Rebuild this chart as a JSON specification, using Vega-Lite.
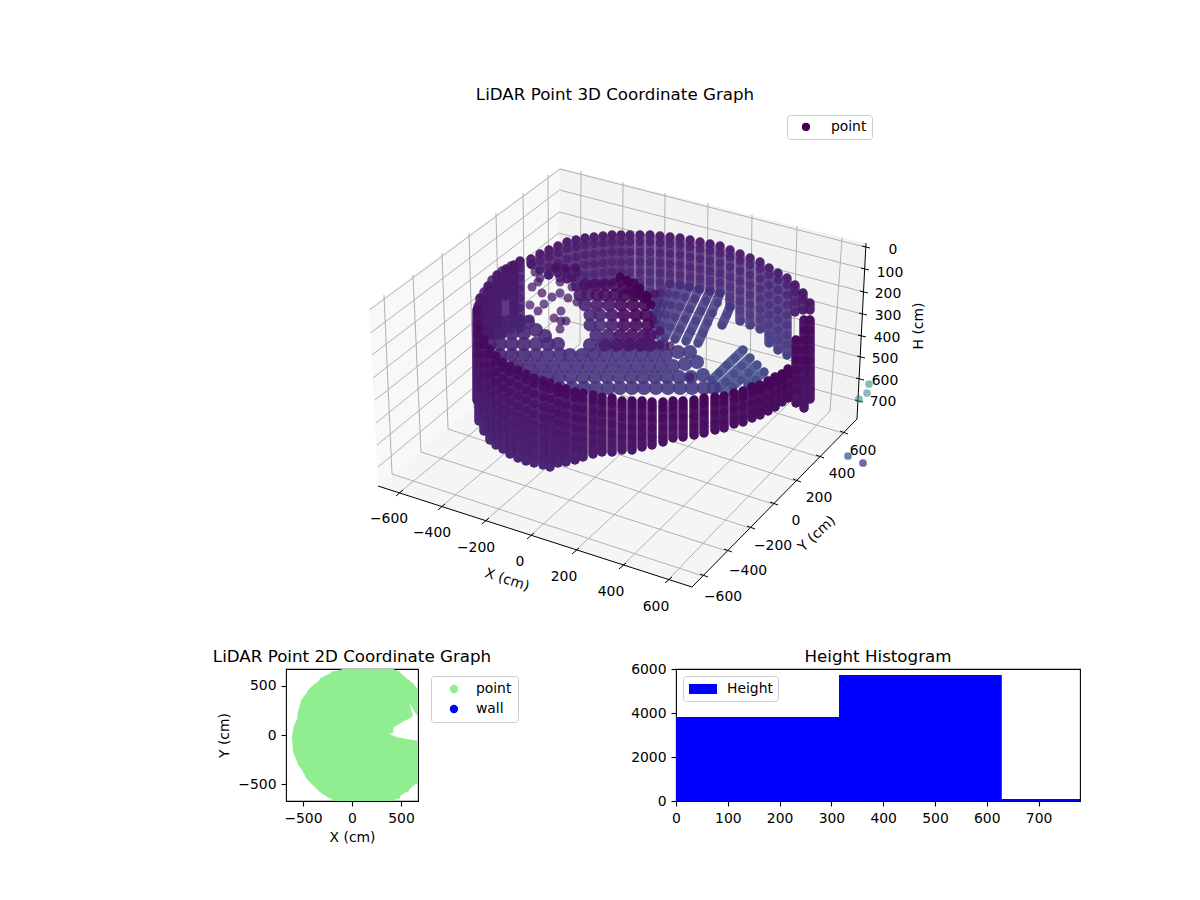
{
"$schema":"https://vega.github.io/schema/vega-lite/v6.json",
"padding":0,
"background":"white",
"config":{"font":"DejaVu Sans","view":{"stroke":null},"axis":{"grid":false,"labelFontSize":13.9,"titleFontSize":13.9,"titleFontWeight":"normal","labelColor":"black","titleColor":"black","domainColor":"black","tickColor":"black","tickSize":5,"domainWidth":1.1,"tickWidth":1.1,"labelPadding":5,"labelFlush":false},"title":{"fontSize":16.7,"fontWeight":"normal","color":"black"},"legend":{"labelFontSize":13.9,"labelColor":"black","strokeColor":"#cccccc","fillColor":"white","cornerRadius":3}},
"bounds":"flush",
"spacing":0,
"resolve":{"scale":{"color":"independent","shape":"independent"},"legend":{"color":"independent","shape":"independent"}},
"vconcat":[
{"width":1200,"height":669,
"encoding":{"x":{"field":"x","type":"quantitative","scale":{"domain":[0,1200],"nice":false},"axis":null},"y":{"field":"y","type":"quantitative","scale":{"domain":[669,0],"nice":false},"axis":null}},
"layer":[
{"data":{"values":[{"x":369,"y":308,"y2":308},{"x":378,"y":301,"y2":486},{"x":557,"y":170,"y2":338},{"x":560,"y":168,"y2":168}]},"mark":{"type":"area","color":"#f8f8f8"},"encoding":{"y2":{"field":"y2"}}},
{"data":{"values":[{"x":557,"y":338,"y2":338},{"x":560,"y":168,"y2":339},{"x":857,"y":241,"y2":419},{"x":866,"y":243,"y2":243}]},"mark":{"type":"area","color":"#f2f2f2"},"encoding":{"y2":{"field":"y2"}}},
{"data":{"values":[{"x":378,"y":486,"y2":486},{"x":557,"y":338,"y2":544},{"x":692,"y":374,"y2":587},{"x":857,"y":419,"y2":419}]},"mark":{"type":"area","color":"#f5f5f5"},"encoding":{"y2":{"field":"y2"}}},
{"data":{"values":[
{"x":384,"y":295,"x2":392,"y2":474},{"x":413,"y":275,"x2":421,"y2":452},{"x":442,"y":253,"x2":448,"y2":429},{"x":469,"y":233,"x2":474,"y2":408},{"x":496,"y":213,"x2":500,"y2":386},{"x":523,"y":193,"x2":525,"y2":365},{"x":548,"y":175,"x2":549,"y2":345},
{"x":369.5,"y":310,"x2":560,"y2":169},{"x":370.5,"y":333,"x2":559.6,"y2":190},{"x":372,"y":355,"x2":559.2,"y2":212},{"x":373,"y":378,"x2":558.8,"y2":233},{"x":375,"y":400,"x2":558.4,"y2":255},{"x":376,"y":423,"x2":558,"y2":276},{"x":377,"y":445,"x2":557.6,"y2":297},{"x":378,"y":467,"x2":557.2,"y2":318},
{"x":560,"y":169,"x2":865,"y2":247},{"x":559.6,"y":190,"x2":865,"y2":269},{"x":559.2,"y":212,"x2":864,"y2":292},{"x":558.8,"y":233,"x2":862,"y2":314},{"x":558.4,"y":255,"x2":861,"y2":336},{"x":558,"y":276,"x2":860,"y2":357},{"x":557.6,"y":297,"x2":859,"y2":379},{"x":557.2,"y":318,"x2":858,"y2":401},
{"x":581,"y":171,"x2":580,"y2":344},{"x":623,"y":182,"x2":622,"y2":355},{"x":665,"y":193,"x2":664,"y2":366},{"x":708,"y":203,"x2":706,"y2":377},{"x":752,"y":215,"x2":750,"y2":389},{"x":797,"y":226,"x2":792,"y2":400},{"x":842,"y":238,"x2":830,"y2":411},
{"x":399,"y":493,"x2":580,"y2":344},{"x":441,"y":507,"x2":622,"y2":355},{"x":485,"y":521,"x2":664,"y2":366},{"x":530,"y":536,"x2":706,"y2":377},{"x":575,"y":551,"x2":750,"y2":389},{"x":622,"y":566,"x2":792,"y2":400},{"x":668,"y":580,"x2":830,"y2":411},
{"x":392,"y":474,"x2":703,"y2":576},{"x":421,"y":452,"x2":727,"y2":551},{"x":448,"y":429,"x2":750,"y2":528},{"x":474,"y":408,"x2":773,"y2":504},{"x":500,"y":386,"x2":796,"y2":481},{"x":525,"y":365,"x2":819,"y2":457},{"x":549,"y":345,"x2":843,"y2":433}
]},"mark":{"type":"rule","color":"#b0b0b0","strokeWidth":1},"encoding":{"x2":{"field":"x2"},"y2":{"field":"y2"}}},
{"data":{"values":[
{"x":378,"y":486,"x2":692,"y2":587},{"x":692,"y":587,"x2":857,"y2":419},{"x":866,"y":243,"x2":857,"y2":419},
{"x":396,"y":496,"x2":403,"y2":490},{"x":438,"y":510,"x2":445,"y2":504},{"x":482,"y":524,"x2":489,"y2":518},{"x":527,"y":539,"x2":534,"y2":533},{"x":572,"y":554,"x2":579,"y2":548},{"x":619,"y":569,"x2":626,"y2":563},{"x":665,"y":583,"x2":672,"y2":577},
{"x":700,"y":574,"x2":708,"y2":577},{"x":724,"y":549,"x2":732,"y2":552},{"x":747,"y":526,"x2":755,"y2":529},{"x":770,"y":502,"x2":778,"y2":505},{"x":793,"y":479,"x2":801,"y2":482},{"x":816,"y":455,"x2":824,"y2":458},{"x":840,"y":431,"x2":848,"y2":434},
{"x":862,"y":246,"x2":870,"y2":248},{"x":861,"y":268,"x2":869,"y2":270},{"x":860,"y":291,"x2":868,"y2":293},{"x":859,"y":313,"x2":867,"y2":315},{"x":858,"y":335,"x2":866,"y2":337},{"x":857,"y":356,"x2":865,"y2":358},{"x":856,"y":378,"x2":864,"y2":380},{"x":855,"y":400,"x2":863,"y2":402}
]},"mark":{"type":"rule","color":"black","strokeWidth":1},"encoding":{"x2":{"field":"x2"},"y2":{"field":"y2"}}},
{"encoding":{"color":{"field":"c","type":"quantitative","scale":{"scheme":"viridis","domain":[0,100]},"legend":null}},
"layer":[
{"data":{"values":[{"x":859,"y":399,"c":45},{"x":867,"y":393,"c":45},{"x":869,"y":384,"c":45}]},"mark":{"type":"point","filled":true,"size":60,"opacity":0.55},"encoding":{"shape":{"datum":"point","scale":{"range":["circle"]},"legend":{"title":null,"orient":"none","legendX":787,"legendY":115,"symbolFillColor":"#440154","symbolStrokeColor":"#440154","symbolOpacity":1,"symbolSize":45,"symbolOffset":7,"labelOffset":18,"padding":5}}}},
{"data":{"values":[{"x":848,"y":456,"c":30},{"x":863,"y":463,"c":15}]},"mark":{"type":"point","filled":true,"size":60,"opacity":0.75}},
{"data":{"values":[
{"x":478,"y":306,"x2":478,"y2":335,"c":5},{"x":484,"y":292,"x2":484,"y2":335,"c":5},{"x":480,"y":298,"x2":480,"y2":325,"c":6},{"x":488,"y":286,"x2":488,"y2":335,"c":6},{"x":492,"y":280,"x2":492,"y2":335,"c":6},{"x":497,"y":275,"x2":497,"y2":335,"c":6},{"x":502,"y":271,"x2":502,"y2":335,"c":6},{"x":511,"y":266,"x2":511,"y2":330,"c":7},{"x":506,"y":269,"x2":506,"y2":296,"c":6},{"x":514,"y":265,"x2":514,"y2":322,"c":7},{"x":520,"y":261,"x2":520,"y2":328,"c":7},
{"x":531,"y":259,"x2":531,"y2":264,"c":6},{"x":540,"y":254,"x2":540,"y2":270,"c":6},{"x":549,"y":250,"x2":549,"y2":275,"c":6},{"x":558,"y":246,"x2":558,"y2":273,"c":6},{"x":567,"y":242,"x2":567,"y2":279,"c":7},{"x":576,"y":240,"x2":576,"y2":287,"c":7},{"x":585,"y":238,"x2":585,"y2":285,"c":7},{"x":594,"y":237,"x2":594,"y2":284,"c":7},{"x":603,"y":236,"x2":603,"y2":283,"c":7},{"x":612,"y":235,"x2":612,"y2":282,"c":7},{"x":621,"y":235,"x2":621,"y2":282,"c":7},{"x":630,"y":235,"x2":630,"y2":290,"c":8},{"x":640,"y":235,"x2":640,"y2":295,"c":8},{"x":650,"y":235,"x2":650,"y2":302,"c":9},
{"x":660,"y":236,"x2":660,"y2":293,"c":8},{"x":660,"y":293,"x2":655,"y2":313,"c":13},
{"x":670,"y":237,"x2":670,"y2":284,"c":8},{"x":670,"y":284,"x2":654,"y2":324,"c":14},
{"x":680,"y":238,"x2":680,"y2":285,"c":8},{"x":680,"y":285,"x2":656,"y2":335,"c":15},
{"x":690,"y":240,"x2":690,"y2":287,"c":8},{"x":689,"y":287,"x2":665,"y2":337,"c":15},
{"x":700,"y":242,"x2":700,"y2":289,"c":9},{"x":699,"y":289,"x2":675,"y2":339,"c":16},
{"x":710,"y":244,"x2":710,"y2":291,"c":9},{"x":710,"y":291,"x2":686,"y2":341,"c":16},
{"x":720,"y":246,"x2":720,"y2":293,"c":9},{"x":720,"y":293,"x2":698,"y2":343,"c":17},
{"x":730,"y":250,"x2":730,"y2":307,"c":10},{"x":730,"y":307,"x2":722,"y2":325,"c":17},
{"x":740,"y":254,"x2":740,"y2":321,"c":11},{"x":750,"y":258,"x2":750,"y2":325,"c":11},{"x":760,"y":262,"x2":760,"y2":329,"c":11},{"x":769,"y":268,"x2":769,"y2":343,"c":12},{"x":778,"y":273,"x2":778,"y2":350,"c":12},{"x":787,"y":278,"x2":787,"y2":355,"c":12},{"x":795,"y":285,"x2":795,"y2":312,"c":7},{"x":803,"y":293,"x2":803,"y2":310,"c":5},{"x":810,"y":303,"x2":810,"y2":310,"c":5},
{"x":743,"y":350,"x2":712,"y2":380,"c":21},{"x":750,"y":358,"x2":718,"y2":388,"c":21},{"x":757,"y":365,"x2":725,"y2":393,"c":21},{"x":764,"y":372,"x2":748,"y2":385,"c":21}
]},"mark":{"type":"rule","strokeWidth":9.5,"strokeCap":"round","opacity":0.85},"encoding":{"x2":{"field":"x2"},"y2":{"field":"y2"}}},
{"data":{"values":[
{"x":480,"y":298,"c":5},{"x":480,"y":305,"c":6},{"x":480,"y":315,"c":6},{"x":480,"y":325,"c":7},
{"x":488,"y":286,"c":5},{"x":488,"y":293,"c":6},{"x":488,"y":303,"c":6},{"x":488,"y":313,"c":7},{"x":488,"y":323,"c":7},
{"x":497,"y":275,"c":5},{"x":497,"y":282,"c":6},{"x":497,"y":292,"c":6},{"x":497,"y":302,"c":7},{"x":497,"y":312,"c":7},{"x":497,"y":322,"c":8},
{"x":506,"y":269,"c":5},{"x":506,"y":276,"c":6},{"x":506,"y":286,"c":6},{"x":506,"y":296,"c":7},
{"x":514,"y":265,"c":5},{"x":514,"y":272,"c":6},{"x":514,"y":282,"c":6},{"x":514,"y":292,"c":7},{"x":514,"y":302,"c":7},{"x":514,"y":312,"c":8},{"x":514,"y":322,"c":8},
{"x":520,"y":261,"c":5},{"x":520,"y":268,"c":6},{"x":520,"y":278,"c":7},{"x":520,"y":288,"c":7},{"x":520,"y":298,"c":8},{"x":520,"y":308,"c":8},{"x":520,"y":318,"c":9},{"x":520,"y":328,"c":9},
{"x":531,"y":259,"c":5},{"x":531,"y":264,"c":6},
{"x":540,"y":254,"c":5},{"x":540,"y":261,"c":6},{"x":540,"y":270,"c":7},
{"x":549,"y":250,"c":5},{"x":549,"y":257,"c":6},{"x":549,"y":267,"c":7},{"x":549,"y":275,"c":8},
{"x":558,"y":246,"c":5},{"x":558,"y":253,"c":6},{"x":558,"y":263,"c":7},{"x":558,"y":273,"c":8},
{"x":567,"y":242,"c":5},{"x":567,"y":249,"c":6},{"x":567,"y":259,"c":7},{"x":567,"y":269,"c":8},{"x":567,"y":279,"c":9},
{"x":576,"y":240,"c":5},{"x":576,"y":247,"c":6},{"x":576,"y":257,"c":7},{"x":576,"y":267,"c":8},{"x":576,"y":277,"c":9},{"x":576,"y":287,"c":10},
{"x":585,"y":238,"c":5},{"x":585,"y":245,"c":6},{"x":585,"y":255,"c":7},{"x":585,"y":265,"c":8},{"x":585,"y":275,"c":9},{"x":585,"y":285,"c":10},
{"x":594,"y":237,"c":5},{"x":594,"y":244,"c":6},{"x":594,"y":254,"c":7},{"x":594,"y":264,"c":8},{"x":594,"y":274,"c":9},{"x":594,"y":284,"c":10},
{"x":603,"y":236,"c":5},{"x":603,"y":243,"c":6},{"x":603,"y":253,"c":7},{"x":603,"y":263,"c":8},{"x":603,"y":273,"c":9},{"x":603,"y":283,"c":10},
{"x":612,"y":235,"c":5},{"x":612,"y":242,"c":6},{"x":612,"y":252,"c":7},{"x":612,"y":262,"c":8},{"x":612,"y":272,"c":9},{"x":612,"y":282,"c":10},
{"x":621,"y":235,"c":5},{"x":621,"y":242,"c":6},{"x":621,"y":252,"c":7},{"x":621,"y":262,"c":8},{"x":621,"y":272,"c":9},{"x":621,"y":282,"c":10},
{"x":630,"y":235,"c":5},{"x":630,"y":242,"c":6},{"x":630,"y":252,"c":7},{"x":630,"y":262,"c":9},{"x":630,"y":272,"c":10},{"x":630,"y":282,"c":11},
{"x":640,"y":235,"c":5},{"x":640,"y":242,"c":6},{"x":640,"y":252,"c":8},{"x":640,"y":262,"c":9},{"x":640,"y":272,"c":10},{"x":640,"y":282,"c":11},{"x":640,"y":292,"c":12},
{"x":650,"y":235,"c":5},{"x":650,"y":242,"c":6},{"x":650,"y":252,"c":8},{"x":650,"y":262,"c":9},{"x":650,"y":272,"c":10},{"x":650,"y":282,"c":11},{"x":650,"y":292,"c":12},{"x":650,"y":302,"c":13},
{"x":660,"y":236,"c":5},{"x":660,"y":243,"c":6},{"x":660,"y":253,"c":8},{"x":660,"y":263,"c":9},{"x":660,"y":273,"c":10},{"x":660,"y":283,"c":11},{"x":660,"y":293,"c":12},{"x":658,"y":303,"c":13},{"x":655,"y":313,"c":14},
{"x":670,"y":237,"c":5},{"x":670,"y":244,"c":7},{"x":670,"y":254,"c":8},{"x":670,"y":264,"c":9},{"x":670,"y":274,"c":10},{"x":670,"y":284,"c":11},{"x":668,"y":294,"c":13},{"x":664,"y":304,"c":14},{"x":659,"y":314,"c":15},{"x":654,"y":324,"c":16},
{"x":680,"y":238,"c":5},{"x":680,"y":245,"c":7},{"x":680,"y":255,"c":8},{"x":680,"y":265,"c":9},{"x":680,"y":275,"c":10},{"x":680,"y":285,"c":12},{"x":676,"y":295,"c":13},{"x":671,"y":305,"c":14},{"x":666,"y":315,"c":15},{"x":661,"y":325,"c":16},{"x":656,"y":335,"c":17},
{"x":690,"y":240,"c":5},{"x":690,"y":247,"c":7},{"x":690,"y":257,"c":8},{"x":690,"y":267,"c":9},{"x":690,"y":277,"c":11},{"x":689,"y":287,"c":12},{"x":685,"y":297,"c":14},{"x":680,"y":307,"c":15},{"x":675,"y":317,"c":16},{"x":670,"y":327,"c":17},{"x":665,"y":337,"c":18},
{"x":700,"y":242,"c":5},{"x":700,"y":249,"c":7},{"x":700,"y":259,"c":8},{"x":700,"y":269,"c":10},{"x":700,"y":279,"c":11},{"x":699,"y":289,"c":13},{"x":695,"y":299,"c":14},{"x":690,"y":309,"c":15},{"x":685,"y":319,"c":17},{"x":680,"y":329,"c":18},{"x":675,"y":339,"c":18},
{"x":710,"y":244,"c":5},{"x":710,"y":251,"c":7},{"x":710,"y":261,"c":9},{"x":710,"y":271,"c":10},{"x":710,"y":281,"c":12},{"x":710,"y":291,"c":13},{"x":706,"y":301,"c":15},{"x":701,"y":311,"c":16},{"x":696,"y":321,"c":17},{"x":691,"y":331,"c":18},{"x":686,"y":341,"c":19},
{"x":720,"y":246,"c":5},{"x":720,"y":253,"c":7},{"x":720,"y":263,"c":9},{"x":720,"y":273,"c":10},{"x":720,"y":283,"c":12},{"x":720,"y":293,"c":14},{"x":718,"y":303,"c":15},{"x":713,"y":313,"c":16},{"x":708,"y":323,"c":18},{"x":703,"y":333,"c":19},{"x":698,"y":343,"c":20},
{"x":730,"y":250,"c":5},{"x":730,"y":257,"c":7},{"x":730,"y":267,"c":9},{"x":730,"y":277,"c":11},{"x":730,"y":287,"c":13},{"x":730,"y":297,"c":15},{"x":730,"y":307,"c":16},{"x":727,"y":315,"c":17},{"x":722,"y":325,"c":18},
{"x":740,"y":254,"c":5},{"x":740,"y":261,"c":7},{"x":740,"y":271,"c":9},{"x":740,"y":281,"c":11},{"x":740,"y":291,"c":13},{"x":740,"y":301,"c":15},{"x":740,"y":311,"c":17},{"x":741,"y":321,"c":18},
{"x":750,"y":258,"c":5},{"x":750,"y":265,"c":7},{"x":750,"y":275,"c":9},{"x":750,"y":285,"c":11},{"x":750,"y":295,"c":13},{"x":750,"y":305,"c":15},{"x":750,"y":315,"c":17},{"x":751,"y":325,"c":19},
{"x":760,"y":262,"c":5},{"x":760,"y":269,"c":7},{"x":760,"y":279,"c":9},{"x":760,"y":289,"c":11},{"x":760,"y":299,"c":13},{"x":760,"y":309,"c":15},{"x":760,"y":319,"c":17},{"x":761,"y":329,"c":19},
{"x":769,"y":268,"c":5},{"x":769,"y":275,"c":7},{"x":769,"y":285,"c":9},{"x":769,"y":295,"c":11},{"x":769,"y":305,"c":13},{"x":769,"y":315,"c":15},{"x":769,"y":325,"c":17},{"x":769,"y":335,"c":19},{"x":770,"y":343,"c":20},
{"x":778,"y":273,"c":5},{"x":778,"y":280,"c":7},{"x":778,"y":290,"c":9},{"x":778,"y":300,"c":11},{"x":778,"y":310,"c":13},{"x":778,"y":320,"c":15},{"x":778,"y":330,"c":17},{"x":778,"y":340,"c":19},{"x":778,"y":350,"c":20},
{"x":787,"y":278,"c":5},{"x":787,"y":285,"c":7},{"x":787,"y":295,"c":9},{"x":787,"y":305,"c":11},{"x":787,"y":315,"c":13},{"x":787,"y":325,"c":15},{"x":787,"y":335,"c":17},{"x":787,"y":345,"c":18},{"x":787,"y":355,"c":19},
{"x":795,"y":285,"c":5},{"x":795,"y":292,"c":6},{"x":795,"y":302,"c":8},{"x":795,"y":312,"c":9},
{"x":803,"y":293,"c":4},{"x":803,"y":300,"c":5},{"x":803,"y":310,"c":6},
{"x":810,"y":303,"c":4},{"x":810,"y":310,"c":5},
{"x":743,"y":350,"c":22},{"x":735,"y":358,"c":22},{"x":727,"y":365,"c":21},{"x":719,"y":373,"c":20},{"x":712,"y":380,"c":19},{"x":750,"y":358,"c":22},{"x":742,"y":366,"c":22},{"x":734,"y":374,"c":21},{"x":726,"y":382,"c":20},{"x":718,"y":388,"c":19},{"x":757,"y":365,"c":22},{"x":749,"y":373,"c":22},{"x":741,"y":380,"c":21},{"x":733,"y":387,"c":20},{"x":764,"y":372,"c":22},{"x":756,"y":380,"c":21},{"x":748,"y":385,"c":20}
]},"mark":{"type":"point","filled":true,"size":70,"opacity":0.7}},
{"data":{"values":[
{"x":488,"y":332,"c":6},{"x":490,"y":344,"c":6},{"x":500,"y":322,"c":7},
{"x":508,"y":322,"c":9},{"x":519,"y":322,"c":9},{"x":528,"y":322,"c":10},
{"x":500,"y":333,"c":9},{"x":512,"y":333,"c":10},{"x":524,"y":333,"c":10},{"x":536,"y":330,"c":11},{"x":545,"y":336,"c":11},
{"x":500,"y":344,"c":9},{"x":512,"y":344,"c":10},{"x":524,"y":344,"c":11},{"x":536,"y":344,"c":12},{"x":548,"y":344,"c":12},{"x":558,"y":344,"c":12},
{"x":500,"y":355,"c":8},{"x":512,"y":355,"c":9},{"x":524,"y":355,"c":11},{"x":536,"y":355,"c":12},{"x":548,"y":355,"c":13},{"x":560,"y":355,"c":13},{"x":570,"y":355,"c":13},
{"x":590,"y":345,"c":12},{"x":602,"y":345,"c":13},{"x":614,"y":345,"c":13},{"x":626,"y":345,"c":13},{"x":638,"y":345,"c":13},{"x":650,"y":345,"c":13},{"x":662,"y":345,"c":14},
{"x":582,"y":355,"c":13},{"x":594,"y":355,"c":13},{"x":606,"y":355,"c":14},{"x":618,"y":355,"c":14},{"x":630,"y":355,"c":14},{"x":642,"y":355,"c":14},{"x":654,"y":355,"c":14},{"x":666,"y":355,"c":15},{"x":678,"y":352,"c":16},{"x":690,"y":352,"c":17},
{"x":517,"y":366,"c":9},{"x":529,"y":366,"c":11},{"x":541,"y":366,"c":12},{"x":553,"y":366,"c":13},{"x":565,"y":366,"c":14},{"x":577,"y":366,"c":14},{"x":589,"y":366,"c":14},{"x":601,"y":366,"c":15},{"x":613,"y":366,"c":15},{"x":625,"y":366,"c":15},{"x":637,"y":366,"c":15},{"x":649,"y":366,"c":15},{"x":661,"y":366,"c":15},{"x":673,"y":366,"c":16},{"x":685,"y":364,"c":17},{"x":697,"y":362,"c":18},
{"x":535,"y":377,"c":11},{"x":547,"y":377,"c":12},{"x":559,"y":377,"c":13},{"x":571,"y":377,"c":14},{"x":583,"y":377,"c":15},{"x":595,"y":377,"c":15},{"x":607,"y":377,"c":15},{"x":619,"y":377,"c":15},{"x":631,"y":377,"c":15},{"x":643,"y":377,"c":15},{"x":655,"y":377,"c":15},{"x":667,"y":377,"c":16},{"x":679,"y":377,"c":16},{"x":691,"y":377,"c":17},{"x":703,"y":375,"c":18},
{"x":560,"y":388,"c":13},{"x":572,"y":388,"c":14},{"x":584,"y":388,"c":14},{"x":596,"y":388,"c":15},{"x":608,"y":388,"c":15},{"x":620,"y":388,"c":15},{"x":632,"y":388,"c":15},{"x":644,"y":388,"c":15},{"x":656,"y":388,"c":15},{"x":668,"y":388,"c":16},{"x":680,"y":388,"c":16},{"x":692,"y":388,"c":17},{"x":704,"y":388,"c":17},{"x":714,"y":388,"c":18}
]},"mark":{"type":"point","filled":true,"size":200,"opacity":0.9}},
{"data":{"values":[
{"x":532,"y":265,"c":6},{"x":535,"y":272,"c":6},{"x":540,"y":278,"c":7},{"x":538,"y":282,"c":7},{"x":548,"y":275,"c":6},{"x":532,"y":287,"c":7},{"x":542,"y":293,"c":7},{"x":530,"y":305,"c":8},{"x":544,"y":304,"c":8},{"x":538,"y":311,"c":8},{"x":530,"y":319,"c":9},{"x":554,"y":318,"c":7},{"x":561,"y":311,"c":8},{"x":561,"y":321,"c":7},{"x":566,"y":321,"c":6},{"x":560,"y":329,"c":8},{"x":568,"y":298,"c":6},{"x":577,"y":302,"c":6},{"x":552,"y":297,"c":7},{"x":560,"y":293,"c":7},{"x":557,"y":267,"c":6},{"x":567,"y":273,"c":6},{"x":577,"y":272,"c":6},{"x":560,"y":282,"c":6},{"x":572,"y":287,"c":7},
{"x":555,"y":268,"c":4},{"x":565,"y":268,"c":4},{"x":575,"y":268,"c":4},{"x":560,"y":278,"c":5},{"x":572,"y":278,"c":5},
{"x":655,"y":294,"c":4},{"x":653,"y":320,"c":3},{"x":660,"y":331,"c":3},{"x":670,"y":346,"c":4},{"x":660,"y":345,"c":4},{"x":690,"y":377,"c":6}
]},"mark":{"type":"point","filled":true,"size":80,"opacity":0.75}},
{"data":{"values":[
{"x":585,"y":285,"c":5},{"x":595,"y":285,"c":4},{"x":605,"y":285,"c":4},{"x":615,"y":285,"c":3},{"x":625,"y":288,"c":2},{"x":636,"y":292,"c":1},
{"x":580,"y":295,"c":7},{"x":588,"y":295,"c":6},{"x":597,"y":295,"c":4},{"x":605,"y":295,"c":3},{"x":615,"y":295,"c":2},{"x":625,"y":295,"c":1},{"x":635,"y":295,"c":1},{"x":645,"y":297,"c":1},
{"x":585,"y":305,"c":9},{"x":597,"y":305,"c":7},{"x":609,"y":305,"c":5},{"x":621,"y":305,"c":2},{"x":633,"y":305,"c":1},{"x":645,"y":305,"c":1},
{"x":590,"y":315,"c":11},{"x":600,"y":315,"c":9},{"x":612,"y":315,"c":6},{"x":624,"y":315,"c":2},{"x":636,"y":315,"c":1},{"x":646,"y":315,"c":1},
{"x":590,"y":325,"c":11},{"x":600,"y":325,"c":12},{"x":612,"y":325,"c":8},{"x":624,"y":325,"c":3},{"x":636,"y":325,"c":2},{"x":648,"y":325,"c":2},
{"x":596,"y":335,"c":11},{"x":608,"y":335,"c":9},{"x":620,"y":335,"c":4},{"x":632,"y":335,"c":3},{"x":644,"y":335,"c":3},{"x":650,"y":335,"c":5},
{"x":605,"y":345,"c":8},{"x":617,"y":345,"c":6},{"x":629,"y":345,"c":5},{"x":641,"y":345,"c":5},{"x":650,"y":345,"c":6}
]},"mark":{"type":"point","filled":true,"size":170,"opacity":0.9}},
{"data":{"values":[{"x":620,"y":277,"c":0},{"x":627,"y":280,"c":0},{"x":634,"y":283,"c":0},{"x":640,"y":288,"c":0},{"x":647,"y":296,"c":0},{"x":651,"y":305,"c":0}]},"mark":{"type":"point","filled":true,"size":80,"opacity":0.9}},
{"data":{"values":[
{"x":477,"y":310,"x2":477,"y2":400,"c":5},{"x":479,"y":329,"x2":479,"y2":421,"c":6},{"x":484,"y":339,"x2":484,"y2":431,"c":6},{"x":490,"y":349,"x2":490,"y2":440,"c":6},{"x":496,"y":356,"x2":496,"y2":445,"c":6},{"x":503,"y":362,"x2":503,"y2":449,"c":6},{"x":510,"y":366,"x2":510,"y2":454,"c":6},{"x":518,"y":370,"x2":518,"y2":458,"c":6},{"x":526,"y":374,"x2":526,"y2":461,"c":6},{"x":534,"y":378,"x2":534,"y2":463,"c":6},{"x":543,"y":381,"x2":543,"y2":465,"c":6},{"x":550,"y":383,"x2":550,"y2":467,"c":6},{"x":558,"y":387,"x2":558,"y2":463,"c":5},{"x":566,"y":389,"x2":566,"y2":462,"c":5},{"x":575,"y":392,"x2":575,"y2":460,"c":5},{"x":583,"y":393,"x2":583,"y2":457,"c":5},{"x":593,"y":395,"x2":593,"y2":454,"c":4},{"x":602,"y":397,"x2":602,"y2":452,"c":4},{"x":612,"y":398,"x2":612,"y2":452,"c":4},{"x":622,"y":401,"x2":622,"y2":450,"c":4},{"x":632,"y":401,"x2":632,"y2":450,"c":3},{"x":642,"y":401,"x2":642,"y2":447,"c":3},{"x":652,"y":402,"x2":652,"y2":445,"c":3},{"x":663,"y":402,"x2":663,"y2":442,"c":3},{"x":673,"y":401,"x2":673,"y2":438,"c":3},{"x":683,"y":401,"x2":683,"y2":437,"c":2},{"x":694,"y":400,"x2":694,"y2":435,"c":2},{"x":704,"y":398,"x2":704,"y2":433,"c":2},{"x":715,"y":397,"x2":715,"y2":430,"c":2},{"x":724,"y":396,"x2":724,"y2":428,"c":2},{"x":734,"y":393,"x2":734,"y2":424,"c":2},{"x":743,"y":391,"x2":743,"y2":422,"c":2},{"x":752,"y":387,"x2":752,"y2":418,"c":2},{"x":760,"y":385,"x2":760,"y2":415,"c":2},{"x":768,"y":381,"x2":768,"y2":411,"c":2},{"x":775,"y":377,"x2":775,"y2":407,"c":2},{"x":782,"y":374,"x2":782,"y2":402,"c":2},{"x":788,"y":369,"x2":788,"y2":398,"c":2},{"x":796,"y":340,"x2":796,"y2":403,"c":2},{"x":804,"y":320,"x2":804,"y2":408,"c":3},{"x":810,"y":320,"x2":810,"y2":399,"c":3}
]},"mark":{"type":"rule","strokeWidth":9.5,"strokeCap":"round","opacity":0.95},"encoding":{"x2":{"field":"x2"},"y2":{"field":"y2"}}},
{"data":{"values":[
{"x":477,"y":310,"c":3},{"x":477,"y":325,"c":3},{"x":477,"y":335,"c":4},{"x":477,"y":345,"c":4},{"x":477,"y":355,"c":5},{"x":477,"y":365,"c":6},{"x":477,"y":375,"c":7},{"x":477,"y":385,"c":8},{"x":477,"y":395,"c":9},{"x":477,"y":400,"c":10},
{"x":479,"y":329,"c":2},{"x":479,"y":335,"c":3},{"x":479,"y":345,"c":3},{"x":479,"y":355,"c":4},{"x":479,"y":365,"c":5},{"x":479,"y":375,"c":6},{"x":479,"y":385,"c":7},{"x":479,"y":395,"c":8},{"x":479,"y":405,"c":9},{"x":479,"y":415,"c":10},{"x":479,"y":421,"c":11},
{"x":484,"y":339,"c":2},{"x":484,"y":345,"c":2},{"x":484,"y":355,"c":3},{"x":484,"y":365,"c":4},{"x":484,"y":375,"c":5},{"x":484,"y":385,"c":6},{"x":484,"y":395,"c":7},{"x":484,"y":405,"c":8},{"x":484,"y":415,"c":9},{"x":484,"y":425,"c":10},{"x":484,"y":431,"c":11},
{"x":490,"y":349,"c":2},{"x":490,"y":355,"c":2},{"x":490,"y":365,"c":3},{"x":490,"y":375,"c":4},{"x":490,"y":385,"c":5},{"x":490,"y":395,"c":6},{"x":490,"y":405,"c":7},{"x":490,"y":415,"c":8},{"x":490,"y":425,"c":9},{"x":490,"y":435,"c":10},{"x":490,"y":440,"c":11},
{"x":496,"y":356,"c":2},{"x":496,"y":362,"c":2},{"x":496,"y":372,"c":3},{"x":496,"y":382,"c":4},{"x":496,"y":392,"c":5},{"x":496,"y":402,"c":6},{"x":496,"y":412,"c":7},{"x":496,"y":422,"c":8},{"x":496,"y":432,"c":9},{"x":496,"y":442,"c":10},{"x":496,"y":445,"c":11},
{"x":503,"y":362,"c":2},{"x":503,"y":368,"c":2},{"x":503,"y":378,"c":3},{"x":503,"y":388,"c":4},{"x":503,"y":398,"c":5},{"x":503,"y":408,"c":6},{"x":503,"y":418,"c":7},{"x":503,"y":428,"c":8},{"x":503,"y":438,"c":9},{"x":503,"y":449,"c":11},
{"x":510,"y":366,"c":2},{"x":510,"y":372,"c":2},{"x":510,"y":382,"c":3},{"x":510,"y":392,"c":4},{"x":510,"y":402,"c":5},{"x":510,"y":412,"c":6},{"x":510,"y":422,"c":7},{"x":510,"y":432,"c":8},{"x":510,"y":442,"c":9},{"x":510,"y":454,"c":11},
{"x":518,"y":370,"c":2},{"x":518,"y":376,"c":2},{"x":518,"y":386,"c":3},{"x":518,"y":396,"c":4},{"x":518,"y":406,"c":5},{"x":518,"y":416,"c":6},{"x":518,"y":426,"c":7},{"x":518,"y":436,"c":8},{"x":518,"y":446,"c":9},{"x":518,"y":458,"c":11},
{"x":526,"y":374,"c":2},{"x":526,"y":380,"c":2},{"x":526,"y":390,"c":3},{"x":526,"y":400,"c":4},{"x":526,"y":410,"c":5},{"x":526,"y":420,"c":6},{"x":526,"y":430,"c":7},{"x":526,"y":440,"c":8},{"x":526,"y":450,"c":9},{"x":526,"y":461,"c":11},
{"x":534,"y":378,"c":2},{"x":534,"y":384,"c":2},{"x":534,"y":394,"c":3},{"x":534,"y":404,"c":4},{"x":534,"y":414,"c":5},{"x":534,"y":424,"c":6},{"x":534,"y":434,"c":7},{"x":534,"y":444,"c":8},{"x":534,"y":454,"c":9},{"x":534,"y":463,"c":10},
{"x":543,"y":381,"c":2},{"x":543,"y":387,"c":2},{"x":543,"y":397,"c":3},{"x":543,"y":407,"c":4},{"x":543,"y":417,"c":5},{"x":543,"y":427,"c":6},{"x":543,"y":437,"c":7},{"x":543,"y":447,"c":8},{"x":543,"y":457,"c":9},{"x":543,"y":465,"c":11},
{"x":550,"y":383,"c":2},{"x":550,"y":389,"c":2},{"x":550,"y":399,"c":3},{"x":550,"y":409,"c":4},{"x":550,"y":419,"c":5},{"x":550,"y":429,"c":6},{"x":550,"y":439,"c":7},{"x":550,"y":449,"c":8},{"x":550,"y":459,"c":9},{"x":550,"y":467,"c":11},
{"x":558,"y":387,"c":2},{"x":558,"y":393,"c":2},{"x":558,"y":403,"c":3},{"x":558,"y":413,"c":4},{"x":558,"y":423,"c":5},{"x":558,"y":433,"c":6},{"x":558,"y":443,"c":7},{"x":558,"y":453,"c":8},{"x":558,"y":463,"c":10},
{"x":566,"y":389,"c":2},{"x":566,"y":395,"c":2},{"x":566,"y":405,"c":3},{"x":566,"y":415,"c":4},{"x":566,"y":425,"c":5},{"x":566,"y":435,"c":6},{"x":566,"y":445,"c":7},{"x":566,"y":455,"c":8},{"x":566,"y":462,"c":10},
{"x":575,"y":392,"c":2},{"x":575,"y":398,"c":2},{"x":575,"y":408,"c":3},{"x":575,"y":418,"c":4},{"x":575,"y":428,"c":5},{"x":575,"y":438,"c":6},{"x":575,"y":448,"c":7},{"x":575,"y":460,"c":9},
{"x":583,"y":393,"c":2},{"x":583,"y":399,"c":2},{"x":583,"y":409,"c":3},{"x":583,"y":419,"c":4},{"x":583,"y":429,"c":5},{"x":583,"y":439,"c":6},{"x":583,"y":449,"c":7},{"x":583,"y":457,"c":9},
{"x":593,"y":395,"c":2},{"x":593,"y":401,"c":2},{"x":593,"y":411,"c":3},{"x":593,"y":421,"c":4},{"x":593,"y":431,"c":5},{"x":593,"y":441,"c":6},{"x":593,"y":451,"c":7},{"x":593,"y":454,"c":8},
{"x":602,"y":397,"c":2},{"x":602,"y":403,"c":2},{"x":602,"y":413,"c":3},{"x":602,"y":423,"c":4},{"x":602,"y":433,"c":5},{"x":602,"y":443,"c":6},{"x":602,"y":452,"c":7},
{"x":612,"y":398,"c":2},{"x":612,"y":404,"c":2},{"x":612,"y":414,"c":3},{"x":612,"y":424,"c":4},{"x":612,"y":434,"c":5},{"x":612,"y":444,"c":6},{"x":612,"y":452,"c":7},
{"x":622,"y":401,"c":1},{"x":622,"y":407,"c":2},{"x":622,"y":417,"c":3},{"x":622,"y":427,"c":4},{"x":622,"y":437,"c":5},{"x":622,"y":447,"c":6},{"x":622,"y":450,"c":7},
{"x":632,"y":401,"c":1},{"x":632,"y":407,"c":2},{"x":632,"y":417,"c":3},{"x":632,"y":427,"c":3},{"x":632,"y":437,"c":4},{"x":632,"y":447,"c":5},{"x":632,"y":450,"c":6},
{"x":642,"y":401,"c":1},{"x":642,"y":407,"c":1},{"x":642,"y":417,"c":2},{"x":642,"y":427,"c":3},{"x":642,"y":437,"c":4},{"x":642,"y":447,"c":5},
{"x":652,"y":402,"c":1},{"x":652,"y":408,"c":1},{"x":652,"y":418,"c":2},{"x":652,"y":428,"c":3},{"x":652,"y":438,"c":4},{"x":652,"y":445,"c":5},
{"x":663,"y":402,"c":1},{"x":663,"y":408,"c":1},{"x":663,"y":418,"c":2},{"x":663,"y":428,"c":3},{"x":663,"y":438,"c":4},{"x":663,"y":442,"c":5},
{"x":673,"y":401,"c":1},{"x":673,"y":407,"c":1},{"x":673,"y":417,"c":2},{"x":673,"y":427,"c":3},{"x":673,"y":438,"c":5},
{"x":683,"y":401,"c":1},{"x":683,"y":407,"c":1},{"x":683,"y":417,"c":2},{"x":683,"y":427,"c":3},{"x":683,"y":437,"c":4},
{"x":694,"y":400,"c":1},{"x":694,"y":406,"c":1},{"x":694,"y":416,"c":2},{"x":694,"y":426,"c":3},{"x":694,"y":435,"c":4},
{"x":704,"y":398,"c":1},{"x":704,"y":404,"c":1},{"x":704,"y":414,"c":2},{"x":704,"y":424,"c":3},{"x":704,"y":433,"c":4},
{"x":715,"y":397,"c":1},{"x":715,"y":403,"c":1},{"x":715,"y":413,"c":2},{"x":715,"y":423,"c":3},{"x":715,"y":430,"c":4},
{"x":724,"y":396,"c":1},{"x":724,"y":402,"c":1},{"x":724,"y":412,"c":2},{"x":724,"y":422,"c":3},{"x":724,"y":428,"c":4},
{"x":734,"y":393,"c":1},{"x":734,"y":399,"c":1},{"x":734,"y":409,"c":2},{"x":734,"y":419,"c":3},{"x":734,"y":424,"c":4},
{"x":743,"y":391,"c":1},{"x":743,"y":397,"c":1},{"x":743,"y":407,"c":2},{"x":743,"y":417,"c":3},{"x":743,"y":422,"c":4},
{"x":752,"y":387,"c":1},{"x":752,"y":393,"c":1},{"x":752,"y":403,"c":2},{"x":752,"y":413,"c":3},{"x":752,"y":418,"c":4},
{"x":760,"y":385,"c":1},{"x":760,"y":391,"c":1},{"x":760,"y":401,"c":2},{"x":760,"y":411,"c":3},{"x":760,"y":415,"c":4},
{"x":768,"y":381,"c":1},{"x":768,"y":387,"c":1},{"x":768,"y":397,"c":2},{"x":768,"y":407,"c":3},{"x":768,"y":411,"c":4},
{"x":775,"y":377,"c":1},{"x":775,"y":383,"c":1},{"x":775,"y":393,"c":2},{"x":775,"y":403,"c":3},{"x":775,"y":407,"c":4},
{"x":782,"y":374,"c":1},{"x":782,"y":380,"c":1},{"x":782,"y":390,"c":2},{"x":782,"y":400,"c":3},
{"x":788,"y":369,"c":1},{"x":788,"y":375,"c":1},{"x":788,"y":385,"c":2},{"x":788,"y":395,"c":2},{"x":788,"y":398,"c":3},
{"x":796,"y":340,"c":2},{"x":796,"y":350,"c":2},{"x":796,"y":360,"c":1},{"x":796,"y":370,"c":2},{"x":796,"y":380,"c":3},{"x":796,"y":390,"c":3},{"x":796,"y":403,"c":4},
{"x":804,"y":320,"c":3},{"x":804,"y":330,"c":2},{"x":804,"y":340,"c":2},{"x":804,"y":350,"c":2},{"x":804,"y":360,"c":2},{"x":804,"y":370,"c":3},{"x":804,"y":380,"c":4},{"x":804,"y":390,"c":5},{"x":804,"y":400,"c":5},{"x":804,"y":408,"c":5},
{"x":810,"y":320,"c":2},{"x":810,"y":330,"c":2},{"x":810,"y":340,"c":3},{"x":810,"y":350,"c":3},{"x":810,"y":360,"c":3},{"x":810,"y":370,"c":4},{"x":810,"y":380,"c":5},{"x":810,"y":390,"c":6},{"x":810,"y":399,"c":6}
]},"mark":{"type":"point","filled":true,"size":70,"opacity":0.8}}
]},
{"data":{"values":[{"x":615,"y":95,"t":"LiDAR Point 3D Coordinate Graph"}]},"mark":{"type":"text","fontSize":16.7},"encoding":{"text":{"field":"t"}}},
{"data":{"values":[
{"x":389,"y":519,"t":"−600"},{"x":432,"y":533,"t":"−400"},{"x":476,"y":548,"t":"−200"},{"x":520,"y":562,"t":"0"},{"x":564,"y":577,"t":"200"},{"x":611,"y":592,"t":"400"},{"x":656,"y":607,"t":"600"},
{"x":723,"y":597,"t":"−600"},{"x":748,"y":571,"t":"−400"},{"x":773,"y":546,"t":"−200"},{"x":796,"y":521,"t":"0"},{"x":819,"y":498,"t":"200"},{"x":842,"y":474,"t":"400"},{"x":863,"y":451,"t":"600"},
{"x":893,"y":250,"t":"0"},{"x":890,"y":273,"t":"100"},{"x":888,"y":294,"t":"200"},{"x":888,"y":316,"t":"300"},{"x":887,"y":338,"t":"400"},{"x":885,"y":359,"t":"500"},{"x":885,"y":381,"t":"600"},{"x":883,"y":402,"t":"700"}
]},"mark":{"type":"text","fontSize":13.9},"encoding":{"text":{"field":"t"}}},
{"data":{"values":[{"x":507,"y":580,"t":"X (cm)"}]},"mark":{"type":"text","fontSize":13.9,"angle":18},"encoding":{"text":{"field":"t"}}},
{"data":{"values":[{"x":817,"y":534,"t":"Y (cm)"}]},"mark":{"type":"text","fontSize":13.9,"angle":317},"encoding":{"text":{"field":"t"}}},
{"data":{"values":[{"x":919,"y":326,"t":"H (cm)"}]},"mark":{"type":"text","fontSize":13.9,"angle":270},"encoding":{"text":{"field":"t"}}}
]},
{"bounds":"flush","spacing":258,
"resolve":{"scale":{"color":"independent"},"legend":{"color":"independent"}},
"hconcat":[
{"width":28,"height":132,"data":{"values":[]},"mark":{"type":"point"},"encoding":{}},
{"width":132,"height":132,"view":{"stroke":"black","strokeWidth":1.1},"title":{"text":"LiDAR Point 2D Coordinate Graph","offset":3},
"encoding":{"x":{"field":"x","type":"quantitative","title":"X (cm)","scale":{"domain":[-673,673],"nice":false},"axis":{"values":[-500,0,500],"domain":false,"format":"d","titlePadding":6}},"y":{"field":"y","type":"quantitative","title":"Y (cm)","scale":{"domain":[-673,673],"nice":false},"axis":{"values":[-500,0,500],"domain":false,"format":"d","titlePadding":6}}},
"layer":[
{"data":{"values":[
{"p":"a","x":-612,"y":-17,"y2":-17},{"p":"a","x":-602,"y":51,"y2":-153},{"p":"a","x":-595,"y":85,"y2":-190},{"p":"a","x":-558,"y":170,"y2":-279},{"p":"a","x":-551,"y":238,"y2":-306},{"p":"a","x":-517,"y":357,"y2":-345},{"p":"a","x":-466,"y":425,"y2":-442},{"p":"a","x":-432,"y":476,"y2":-480},{"p":"a","x":-330,"y":560,"y2":-578},{"p":"a","x":-296,"y":595,"y2":-605},{"p":"a","x":-177,"y":650,"y2":-673},{"p":"a","x":-92,"y":673,"y2":-673},{"p":"a","x":386,"y":673,"y2":-673},
{"p":"b","x":384,"y":7,"y2":-673},{"p":"b","x":435,"y":-14,"y2":-673},{"p":"b","x":452,"y":-20,"y2":-650},{"p":"b","x":554,"y":-41,"y2":-578},{"p":"b","x":673,"y":-58,"y2":-476},
{"p":"c","x":384,"y":673,"y2":7},{"p":"c","x":418,"y":673,"y2":24},{"p":"c","x":425,"y":670,"y2":78},{"p":"c","x":452,"y":660,"y2":92},{"p":"c","x":486,"y":646,"y2":114},{"p":"c","x":520,"y":612,"y2":136},{"p":"c","x":554,"y":578,"y2":154},{"p":"c","x":590,"y":552,"y2":172},
{"p":"d","x":588,"y":323,"y2":172},{"p":"d","x":622,"y":194,"y2":194},
{"p":"e","x":586,"y":552,"y2":323},{"p":"e","x":622,"y":527,"y2":265},{"p":"e","x":673,"y":466,"y2":180}
]},"mark":{"type":"area","color":"#90ee90","clip":true},"encoding":{"y2":{"field":"y2"},"detail":{"field":"p"}}},
{"data":{"values":[
{"s":"point","x":-590,"y":-20},{"s":"point","x":-570,"y":90},{"s":"point","x":-530,"y":210},{"s":"point","x":-490,"y":340},{"s":"point","x":-420,"y":450},{"s":"point","x":-310,"y":560},{"s":"point","x":-190,"y":630},{"s":"point","x":-60,"y":650},{"s":"point","x":100,"y":650},{"s":"point","x":250,"y":650},{"s":"point","x":400,"y":650},{"s":"point","x":480,"y":610},{"s":"point","x":570,"y":540},{"s":"point","x":640,"y":460},{"s":"point","x":650,"y":300},
{"s":"point","x":-570,"y":-140},{"s":"point","x":-530,"y":-260},{"s":"point","x":-450,"y":-410},{"s":"point","x":-320,"y":-550},{"s":"point","x":-180,"y":-650},{"s":"point","x":0,"y":-650},{"s":"point","x":180,"y":-650},{"s":"point","x":350,"y":-650},{"s":"point","x":470,"y":-630},{"s":"point","x":560,"y":-560},{"s":"point","x":650,"y":-480},{"s":"point","x":650,"y":-250},
{"s":"point","x":-400,"y":0},{"s":"point","x":-200,"y":0},{"s":"point","x":0,"y":0},{"s":"point","x":200,"y":0},{"s":"point","x":-300,"y":300},{"s":"point","x":-100,"y":300},{"s":"point","x":100,"y":300},{"s":"point","x":300,"y":300},{"s":"point","x":-300,"y":-300},{"s":"point","x":-100,"y":-300},{"s":"point","x":100,"y":-300},{"s":"point","x":300,"y":-300},{"s":"point","x":500,"y":-300}
]},"mark":{"type":"point","filled":true,"size":20,"opacity":1,"clip":true},"encoding":{"color":{"field":"s","type":"nominal","scale":{"domain":["point","wall"],"range":["#90ee90","#0000ff"]},"legend":{"title":null,"orient":"none","legendX":145,"legendY":7,"symbolSize":70,"symbolOpacity":1,"symbolOffset":10,"labelOffset":15,"padding":6,"rowPadding":5}}}}
]},
{"width":404,"height":132,"view":{"stroke":"black","strokeWidth":1.1},"title":{"text":"Height Histogram","offset":-4},
"data":{"values":[{"b":"Height","s":0,"e":314.7,"n":3820,"z":0},{"b":"Height","s":314.7,"e":629,"n":5730,"z":0},{"b":"Height","s":629,"e":944,"n":90,"z":0}]},
"mark":{"type":"rect","clip":true},
"encoding":{"x":{"field":"s","type":"quantitative","title":null,"scale":{"domain":[0,780],"nice":false},"axis":{"values":[0,100,200,300,400,500,600,700],"domain":false,"format":"d"}},"x2":{"field":"e"},"y":{"field":"n","type":"quantitative","title":null,"scale":{"domain":[0,6000],"nice":false},"axis":{"values":[0,2000,4000,6000],"domain":false,"format":"d"}},"y2":{"field":"z"},"color":{"field":"b","type":"nominal","scale":{"range":["#0000ff"]},"legend":{"title":null,"orient":"none","legendX":7,"legendY":7,"symbolType":"M-2,-0.72H2V0.72H-2Z","symbolSize":196,"symbolOpacity":1,"symbolOffset":7,"labelOffset":16,"padding":5}}}}
]}
]
}
